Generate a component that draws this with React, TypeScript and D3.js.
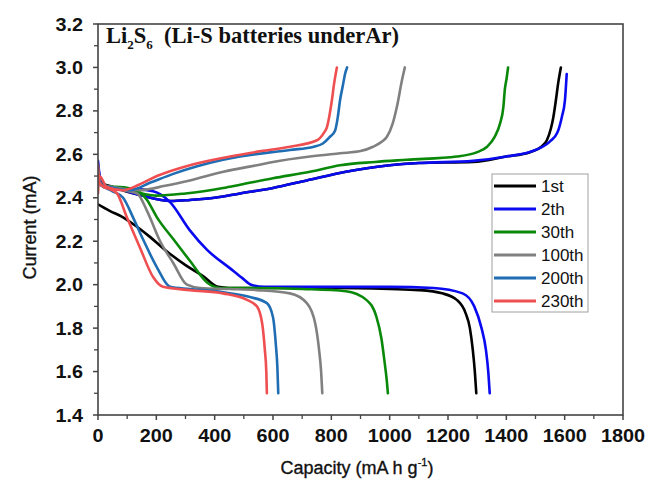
import React from "react";
import * as d3 from "d3";

const seriesNames = ["1st", "2th", "30th", "100th", "200th", "230th"];
const seriesColors = ["#000000", "#0a0af0", "#0a880a", "#808080", "#1f6db3", "#ef4f50"];

// discharge branches
const dis1Cap = [0, 40, 86, 130, 178, 230, 300, 360, 411, 450, 600, 800, 1000, 1100, 1180, 1230, 1260, 1275, 1285, 1292, 1297];
const dis1V = [2.37, 2.34, 2.31, 2.27, 2.22, 2.16, 2.09, 2.04, 1.99, 1.985, 1.985, 1.985, 1.98, 1.975, 1.96, 1.93, 1.87, 1.8, 1.7, 1.6, 1.5];
const dis2Cap = [0, 8, 20, 60, 127, 189, 247, 315, 374, 453, 495, 525, 570, 800, 1000, 1150, 1250, 1290, 1315, 1330, 1338, 1343];
const dis2V = [2.57, 2.48, 2.45, 2.44, 2.44, 2.43, 2.38, 2.25, 2.16, 2.075, 2.03, 2.0, 1.99, 1.99, 1.99, 1.985, 1.96, 1.9, 1.8, 1.7, 1.6, 1.5];
const dis30Cap = [0, 8, 20, 60, 120, 168, 202, 258, 315, 374, 418, 500, 700, 850, 920, 955, 972, 982, 990, 994];
const dis30V = [2.52, 2.47, 2.45, 2.45, 2.44, 2.39, 2.31, 2.21, 2.11, 2.01, 1.985, 1.985, 1.98, 1.97, 1.93, 1.85, 1.75, 1.65, 1.56, 1.5];
const dis100Cap = [0, 8, 20, 60, 134, 168, 213, 258, 305, 350, 450, 545, 658, 716, 745, 758, 765, 769];
const dis100V = [2.52, 2.47, 2.45, 2.44, 2.42, 2.34, 2.2, 2.1, 2.0, 1.985, 1.98, 1.975, 1.96, 1.915, 1.82, 1.7, 1.6, 1.5];
const dis200Cap = [0, 8, 20, 50, 86, 120, 154, 202, 247, 315, 429, 521, 579, 600, 610, 615, 618];
const dis200V = [2.5, 2.46, 2.45, 2.43, 2.4, 2.31, 2.21, 2.08, 1.99, 1.98, 1.965, 1.943, 1.915, 1.85, 1.72, 1.62, 1.5];
const dis230Cap = [0, 5, 20, 40, 65, 99, 144, 189, 223, 315, 429, 511, 545, 563, 572, 577, 579];
const dis230V = [2.55, 2.47, 2.45, 2.44, 2.42, 2.31, 2.17, 2.035, 1.99, 1.975, 1.96, 1.93, 1.9, 1.82, 1.7, 1.6, 1.5];

// charge branches
const chg1Cap = [0, 10, 50, 150, 250, 315, 400, 487, 600, 716, 850, 1000, 1100, 1286, 1400, 1481, 1520, 1539, 1553, 1561, 1570, 1578, 1587];
const chg1V = [2.55, 2.47, 2.45, 2.41, 2.385, 2.39, 2.4, 2.42, 2.445, 2.48, 2.52, 2.55, 2.56, 2.565, 2.59, 2.61, 2.635, 2.665, 2.72, 2.77, 2.85, 2.93, 3.0];
const chg2Cap = [0, 10, 50, 150, 250, 315, 400, 487, 600, 716, 850, 1000, 1100, 1286, 1400, 1500, 1550, 1575, 1590, 1601, 1607];
const chg2V = [2.5, 2.46, 2.45, 2.41, 2.385, 2.39, 2.4, 2.42, 2.445, 2.48, 2.52, 2.55, 2.56, 2.57, 2.59, 2.62, 2.66, 2.7, 2.77, 2.85, 2.97];
const chg30Cap = [0, 10, 50, 120, 202, 300, 429, 487, 600, 727, 830, 950, 1059, 1230, 1300, 1334, 1360, 1378, 1390, 1395, 1401, 1406];
const chg30V = [2.52, 2.46, 2.45, 2.43, 2.41, 2.42, 2.445, 2.46, 2.49, 2.52, 2.55, 2.565, 2.575, 2.59, 2.61, 2.635, 2.68, 2.74, 2.82, 2.9, 2.95, 3.0];
const chg100Cap = [0, 10, 50, 144, 230, 315, 430, 545, 600, 727, 830, 900, 943, 975, 990, 1010, 1025, 1042, 1052];
const chg100V = [2.52, 2.46, 2.45, 2.435, 2.455, 2.48, 2.52, 2.55, 2.565, 2.59, 2.605, 2.615, 2.635, 2.66, 2.68, 2.74, 2.82, 2.94, 3.0];
const chg200Cap = [0, 10, 40, 110, 180, 258, 340, 429, 487, 658, 740, 771, 795, 813, 822, 830, 840, 847, 854];
const chg200V = [2.55, 2.46, 2.45, 2.435, 2.47, 2.51, 2.545, 2.575, 2.59, 2.62, 2.635, 2.65, 2.68, 2.71, 2.77, 2.85, 2.92, 2.97, 3.0];
const chg230Cap = [0, 5, 30, 86, 140, 202, 315, 453, 560, 658, 751, 775, 785, 795, 802, 810, 819];
const chg230V = [2.42, 2.5, 2.45, 2.435, 2.46, 2.5, 2.55, 2.59, 2.615, 2.635, 2.665, 2.7, 2.725, 2.79, 2.85, 2.93, 3.0];

const dischargeCaps = [dis1Cap, dis2Cap, dis30Cap, dis100Cap, dis200Cap, dis230Cap];
const dischargeVs = [dis1V, dis2V, dis30V, dis100V, dis200V, dis230V];
const chargeCaps = [chg1Cap, chg2Cap, chg30Cap, chg100Cap, chg200Cap, chg230Cap];
const chargeVs = [chg1V, chg2V, chg30V, chg100V, chg200V, chg230V];

const xTicks = [0, 200, 400, 600, 800, 1000, 1200, 1400, 1600, 1800];
const yTicks = [1.4, 1.6, 1.8, 2.0, 2.2, 2.4, 2.6, 2.8, 3.0, 3.2];

const W = 651;
const H = 484;
const L = 98, R = 623, T = 24, B = 415;

export default function App() {
  const x = d3.scaleLinear().domain([0, 1800]).range([L, R]);
  const y = d3.scaleLinear().domain([1.4, 3.2]).range([B, T]);
  const line = d3
    .line<[number, number]>()
    .x((d) => x(d[0]))
    .y((d) => y(d[1]))
    .curve(d3.curveMonotoneX);

  const xMinor = d3.range(100, 1800, 200);
  const yMinor = d3.range(1.5, 3.2, 0.2);
  const axisColor = "#444";
  const tickFont = "Liberation Sans, Arial, sans-serif";

  const toPts = (c: number[], v: number[]) => c.map((cc, i) => [cc, v[i]] as [number, number]);

  return (
    <svg
      width={W}
      height={H}
      style={{ position: "absolute", left: 0, top: 0, background: "#fff" }}
    >
      <defs>
        <clipPath id="plotclip">
          <rect x={L} y={T} width={R - L} height={B - T} />
        </clipPath>
      </defs>

      {/* curves */}
      <g clipPath="url(#plotclip)" fill="none" strokeWidth={2.6} strokeLinejoin="round" strokeLinecap="round">
        {seriesNames.map((n, i) => (
          <g key={n} stroke={seriesColors[i]}>
            <path d={line(toPts(dischargeCaps[i], dischargeVs[i])) || ""} />
            <path d={line(toPts(chargeCaps[i], chargeVs[i])) || ""} />
          </g>
        ))}
      </g>

      {/* frame */}
      <rect x={L} y={T} width={R - L} height={B - T} fill="none" stroke={axisColor} strokeWidth={1.6} />

      {/* x ticks */}
      {xTicks.map((t) => (
        <g key={"xt" + t}>
          <line x1={x(t)} x2={x(t)} y1={B} y2={B + 5} stroke={axisColor} strokeWidth={1.5} />
          <g transform={`translate(${x(t)},${442}) scale(1.1,1)`}>
            <text textAnchor="middle" fontFamily={tickFont} fontWeight="bold" fontSize={18} fill="#111">
              {t}
            </text>
          </g>
        </g>
      ))}
      {xMinor.map((t) => (
        <line key={"xm" + t} x1={x(t)} x2={x(t)} y1={B} y2={B + 4} stroke={axisColor} strokeWidth={1.3} />
      ))}

      {/* y ticks */}
      {yTicks.map((t) => (
        <g key={"yt" + t}>
          <line x1={L - 5} x2={L} y1={y(t)} y2={y(t)} stroke={axisColor} strokeWidth={1.5} />
          <g transform={`translate(${83},${y(t) + 6.5}) scale(1.1,1)`}>
            <text textAnchor="end" fontFamily={tickFont} fontWeight="bold" fontSize={18} fill="#111">
              {t.toFixed(1)}
            </text>
          </g>
        </g>
      ))}
      {yMinor.map((t) => (
        <line key={"ym" + t} x1={L - 4} x2={L} y1={y(t)} y2={y(t)} stroke={axisColor} strokeWidth={1.3} />
      ))}

      {/* axis titles */}
      <text
        x={357}
        y={474}
        textAnchor="middle"
        fontFamily={tickFont}
        fontSize={18}
        fill="#111"
        stroke="#111"
        strokeWidth={0.35}
      >
        Capacity (mA h g
        <tspan fontSize={11} dy={-8}>-1</tspan>
        <tspan dy={8}>)</tspan>
      </text>
      <text
        transform={`translate(36,${(T + B) / 2 + 8}) rotate(-90)`}
        textAnchor="middle"
        fontFamily={tickFont}
        fontSize={18}
        fill="#111"
        stroke="#111"
        strokeWidth={0.35}
      >
        Current (mA)
      </text>

      {/* title */}
      <text x={106} y={43} fontFamily="Liberation Serif, Times New Roman, serif" fontWeight="bold" fontSize={22.5} fill="#111">
        Li
        <tspan fontSize={13} dy={6}>2</tspan>
        <tspan dy={-6}>S</tspan>
        <tspan fontSize={13} dy={6}>6</tspan>
        <tspan dy={-6}>{"\u00a0\u00a0(Li-S batteries underAr)"}</tspan>
      </text>

      {/* legend */}
      <rect x={492} y={174} width={96} height={138} fill="#fff" stroke="#a0a0a0" strokeWidth={1} />
      {seriesNames.map((n, i) => {
        const yy = 186 + i * 23;
        return (
          <g key={"lg" + n}>
            <line x1={494} x2={536} y1={yy} y2={yy} stroke={seriesColors[i]} strokeWidth={3} />
            <text x={541} y={yy + 6} fontFamily={tickFont} fontSize={17} fill="#111">
              {n}
            </text>
          </g>
        );
      })}
    </svg>
  );
}
